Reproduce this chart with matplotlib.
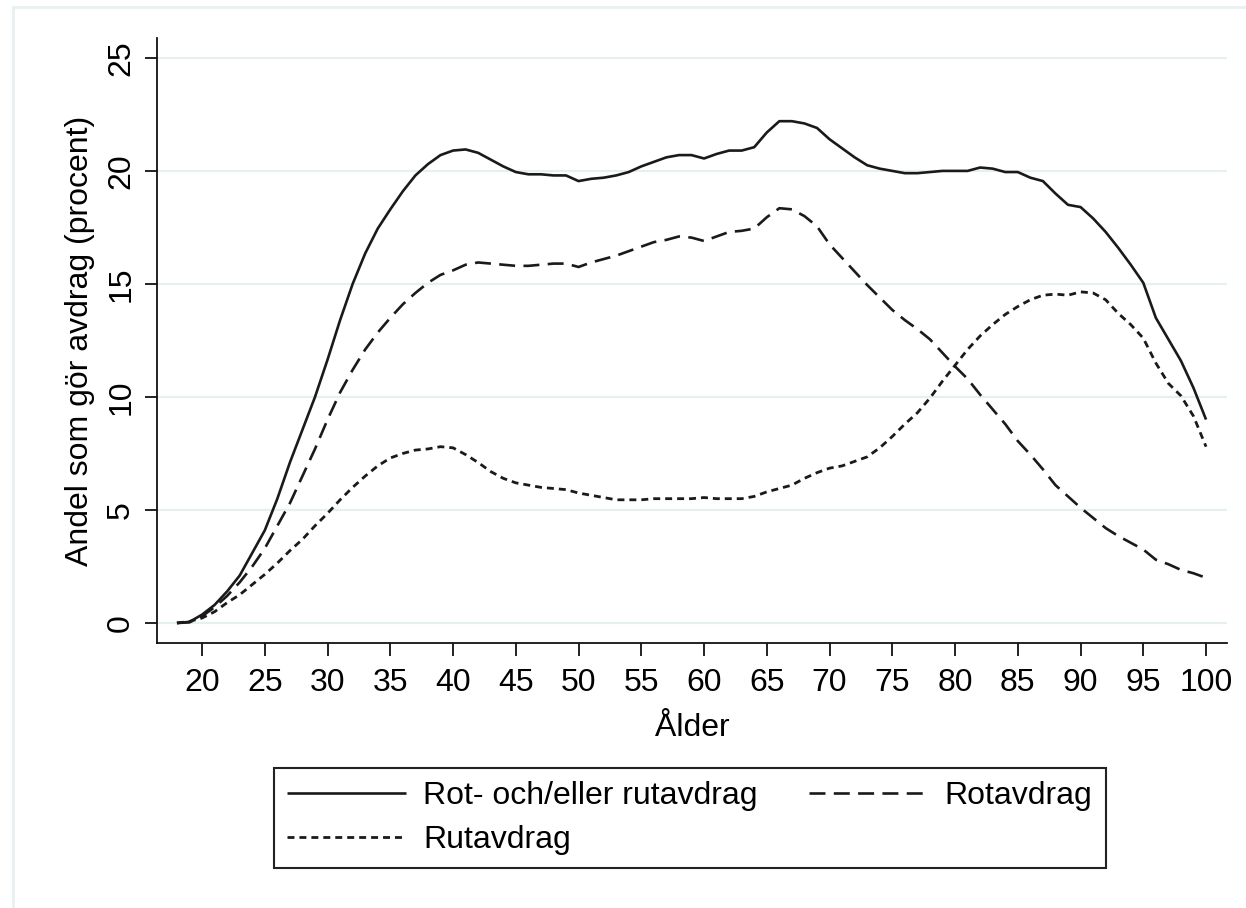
import numpy as np
import matplotlib
matplotlib.use("Agg")
import matplotlib.pyplot as plt
from matplotlib.patches import Rectangle

plt.rcParams.update({
    "font.family": ["Liberation Sans", "DejaVu Sans"],
    "font.size": 23,
    "lines.scale_dashes": False,
})

# ages 18..100
ages = list(range(18, 101))

# Rot- och/eller rutavdrag
total = [0.0, 0.05, 0.37, 0.8, 1.4, 2.1, 3.1, 4.1, 5.5, 7.1,
         8.55, 10.0, 11.65, 13.4, 15.0, 16.35, 17.45, 18.3, 19.1, 19.8,
         20.3, 20.7, 20.9, 20.95, 20.8, 20.5, 20.2, 19.95, 19.85, 19.85,
         19.8, 19.8, 19.55, 19.65, 19.7, 19.8, 19.95, 20.2, 20.4, 20.6,
         20.7, 20.7, 20.55, 20.75, 20.9, 20.9, 21.05, 21.7, 22.2, 22.2,
         22.1, 21.9, 21.4, 21.0, 20.6, 20.25, 20.1, 20.0, 19.9, 19.9,
         19.95, 20.0, 20.0, 20.0, 20.15, 20.1, 19.95, 19.95, 19.7, 19.55,
         19.0, 18.5, 18.4, 17.9, 17.3, 16.6, 15.85, 15.05, 13.5, 12.55,
         11.6, 10.4, 9.0]

# Rotavdrag
rot = [0.0, 0.03, 0.3, 0.7, 1.2, 1.8, 2.5, 3.3, 4.3, 5.3,
       6.5, 7.7, 9.0, 10.2, 11.2, 12.1, 12.85, 13.5, 14.1, 14.6,
       15.05, 15.4, 15.6, 15.85, 15.95, 15.9, 15.85, 15.8, 15.8, 15.85,
       15.9, 15.9, 15.75, 15.95, 16.1, 16.25, 16.45, 16.65, 16.85, 16.95,
       17.1, 17.05, 16.9, 17.1, 17.3, 17.35, 17.45, 17.95, 18.35, 18.3,
       18.0, 17.55, 16.75, 16.15, 15.55, 14.95, 14.4, 13.85, 13.4, 13.0,
       12.55, 11.95, 11.35, 10.8, 10.1, 9.45, 8.8, 8.05, 7.45, 6.8,
       6.1, 5.6, 5.1, 4.65, 4.2, 3.85, 3.55, 3.25, 2.8, 2.6,
       2.35, 2.2, 2.0]

# Rutavdrag
rut = [0.0, 0.07, 0.22, 0.5, 0.9, 1.25, 1.7, 2.15, 2.65, 3.2,
       3.7, 4.3, 4.85, 5.45, 6.0, 6.5, 6.95, 7.3, 7.5, 7.65,
       7.7, 7.8, 7.75, 7.45, 7.1, 6.7, 6.4, 6.2, 6.1, 6.0,
       5.95, 5.9, 5.75, 5.65, 5.55, 5.45, 5.45, 5.45, 5.5, 5.5,
       5.5, 5.5, 5.55, 5.5, 5.5, 5.5, 5.6, 5.8, 5.95, 6.1,
       6.4, 6.65, 6.85, 6.95, 7.15, 7.35, 7.75, 8.25, 8.8, 9.3,
       9.95, 10.7, 11.4, 12.1, 12.7, 13.2, 13.65, 14.0, 14.3, 14.5,
       14.55, 14.5, 14.65, 14.6, 14.3, 13.7, 13.2, 12.6, 11.5, 10.6,
       10.05, 9.15, 7.8]

x_ticks = list(range(20, 101, 5))
y_ticks = list(range(0, 26, 5))

W, H = 1246, 908
fig = plt.figure(figsize=(W / 100, H / 100), dpi=100)
ax = fig.add_axes([157 / W, 1 - 643 / H, (1227 - 157) / W, (643 - 38) / H])

line_col = "#1a1a1a"
h_tot, = ax.plot(ages, total, color=line_col, lw=1.9, solid_capstyle="butt",
                 label="Rot- och/eller rutavdrag")
h_rot, = ax.plot(ages, rot, color=line_col, lw=1.9, dashes=(11.5, 6),
                 label="Rotavdrag")
h_rut, = ax.plot(ages, rut, color=line_col, lw=2.0, dashes=(5, 3.6),
                 label="Rutavdrag")

ax.set_xlim(16.41, 101.67)
ax.set_ylim(-0.885, 25.88)
ax.set_xticks(x_ticks)
ax.set_yticks(y_ticks)
ax.grid(axis="y", color="#e7eff1", lw=1.6)
ax.grid(axis="x", visible=False)
ax.set_axisbelow(True)

for side in ["top", "right"]:
    ax.spines[side].set_visible(False)
for side in ["left", "bottom"]:
    ax.spines[side].set_linewidth(1.3)
    ax.spines[side].set_color("#111111")

ax.tick_params(axis="both", length=9, width=1.3, color="#111111")
ax.tick_params(axis="x", pad=9)
ax.tick_params(axis="y", pad=6, labelrotation=90)
for lab in ax.get_yticklabels():
    lab.set_va("center")

ax.set_xlabel("Ålder")
ax.set_ylabel("Andel som gör avdrag (procent)")
ax.xaxis.set_label_coords(0.5, -0.116)
ax.yaxis.set_label_coords(-0.058, 0.5)

leg = fig.legend([h_tot, h_rut, h_rot],
                 ["Rot- och/eller rutavdrag", "Rutavdrag", "Rotavdrag"],
                 ncol=2, loc="upper left",
                 bbox_to_anchor=(274 / W, 1 - 768 / H),
                 frameon=True, fancybox=False, framealpha=1,
                 edgecolor="#222222", handlelength=3.7, handletextpad=0.55,
                 columnspacing=1.6, borderpad=0.42, labelspacing=0.42,
                 borderaxespad=0)
leg.get_frame().set_linewidth(1.5)

# faint outer frame
fig.add_artist(Rectangle((13 / W, -0.1), 2, 1 - 7 / H + 0.1,
                         transform=fig.transFigure, fill=False,
                         ec="#e8f0f2", lw=2))

fig.savefig("out.png", dpi=100)
